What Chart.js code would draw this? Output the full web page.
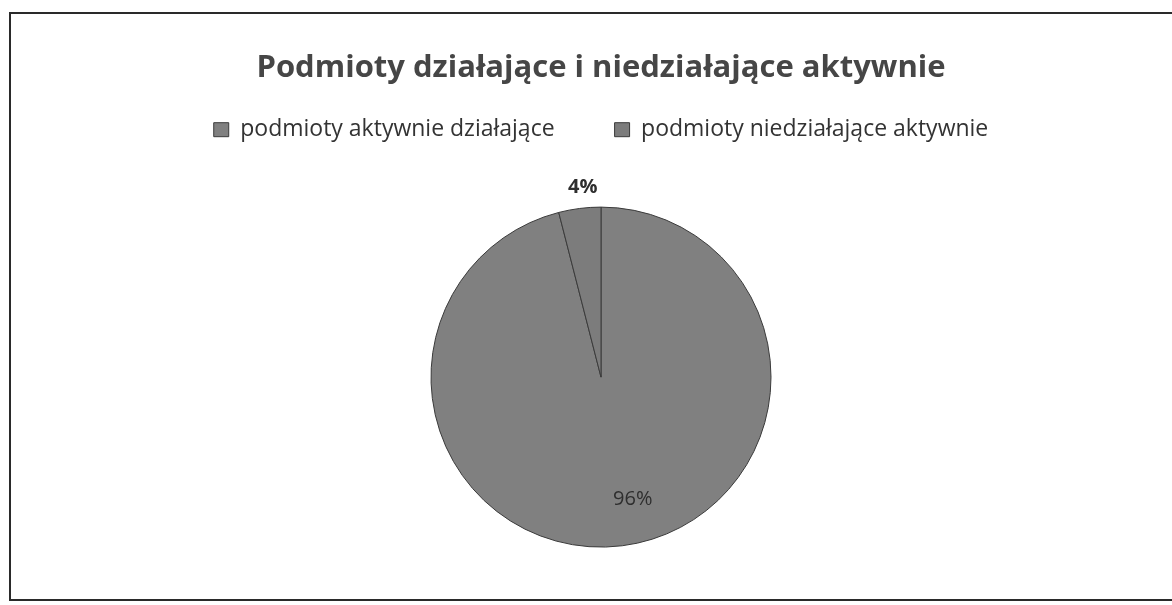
<!DOCTYPE html>
<html lang="pl">
<head>
<meta charset="utf-8">
<title>Podmioty działające i niedziałające aktywnie</title>
<script src="https://cdn.jsdelivr.net/npm/chart.js@4/dist/chart.umd.min.js"></script>
<style>
    html, body {
        margin: 0;
        padding: 0;
        background: #ffffff;
        overflow: hidden;
    }
    #frame {
        position: absolute;
        left: 9px;
        top: 12px;
        width: 1220px;
        height: 585px;
        border-left: 2px solid #2a2a2a;
        border-top: 2px solid #2a2a2a;
        border-bottom: 2px solid #2a2a2a;
    }
    #pieChart {
        position: absolute;
        left: 0;
        top: 0;
    }
</style>
</head>
<body>
<div id="frame"></div>
<canvas id="pieChart" width="1172" height="605"></canvas>

<script>
// ======================
// DATA
// ======================
const chartTitle = "Podmioty działające i niedziałające aktywnie";
const categories = ["podmioty aktywnie działające", "podmioty niedziałające aktywnie"];
const shares = [96, 4];

// ======================
// SLICE LABELS (percentages)
// ======================
const sliceLabels = {
    id: "sliceLabels",
    afterDatasetsDraw(chart) {
        const ctx = chart.ctx;
        const meta = chart.getDatasetMeta(0);
        const total = shares.reduce((a, b) => a + b, 0);

        meta.data.forEach((arc, i) => {
            const p = arc.getProps(["x", "y", "startAngle", "endAngle", "outerRadius"], true);
            const small = shares[i] / total < 0.1;
            // big slice label sits a bit off its mid angle, like the original
            const mid = (p.startAngle + p.endAngle) / 2 + (small ? 0.03 : -0.13);
            const dist = small ? p.outerRadius + 21 : p.outerRadius * 0.74;
            const tx = p.x + Math.cos(mid) * dist;
            const ty = p.y + Math.sin(mid) * dist;

            ctx.save();
            ctx.font = (small ? "bold " : "") + "20px 'Open Sans', sans-serif";
            ctx.fillStyle = "#2e2e2e";
            ctx.textAlign = "center";
            ctx.textBaseline = "middle";
            ctx.fillText(Math.round(shares[i] / total * 100) + "%", tx, ty);
            ctx.restore();
        });
    }
};

// ======================
// RENDER PIE CHART
// ======================
window.renderPieChart = function () {
    const ctx = document.getElementById("pieChart");

    if (!ctx) {
        console.warn("pieChart canvas not found");
        return;
    }

    window.pieChartInstance = new Chart(ctx, {
        type: "pie",
        data: {
            labels: categories,
            datasets: [{
                data: shares,
                backgroundColor: ["#808080", "#7c7c7c"],
                borderColor: "#3a3a3a",
                borderWidth: 1,
                radius: 170
            }]
        },
        options: {
            responsive: false,
            animation: false,
            devicePixelRatio: 1,
            layout: {
                padding: { left: 30, right: 0, top: 0, bottom: 2 }
            },
            plugins: {
                title: {
                    display: true,
                    text: chartTitle,
                    color: "#464646",
                    font: { family: "'Open Sans', sans-serif", size: 31, weight: "bold" },
                    padding: { top: 50, bottom: -29 }
                },
                legend: {
                    position: "top",
                    labels: {
                        color: "#333333",
                        font: { family: "'Open Sans', sans-serif", size: 23 },
                        boxWidth: 15,
                        boxHeight: 14,
                        padding: 60
                    }
                },
                tooltip: { enabled: false }
            }
        },
        plugins: [sliceLabels]
    });
};

window.renderPieChart();
</script>
</body>
</html>
